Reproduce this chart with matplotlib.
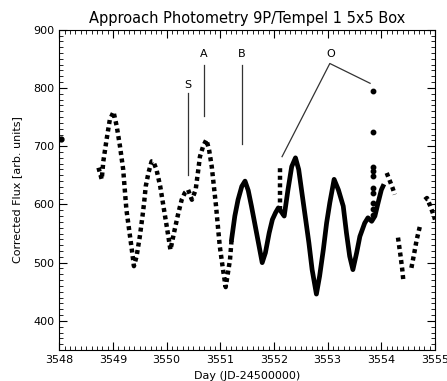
#!/usr/bin/env python3
# -*- coding: utf-8 -*-
"""
Approach photometry light curve of 9P/Tempel 1 (5x5 box)
"""

import matplotlib
matplotlib.use('Agg')
import matplotlib.pyplot as plt
from matplotlib.ticker import MultipleLocator

# Light curve pieces (day - 2450000, flux)
lone_day = [3548.03]
lone_flux = [712]

early_day = [3548.73, 3548.79, 3548.82, 3548.88, 3548.94, 3549.01, 3549.07, 3549.13,
             3549.19, 3549.22, 3549.25, 3549.30, 3549.35, 3549.39, 3549.44, 3549.50,
             3549.55, 3549.58, 3549.61, 3549.66, 3549.72, 3549.75, 3549.81, 3549.88,
             3549.94, 3550.00, 3550.04, 3550.07, 3550.15, 3550.22, 3550.28, 3550.34,
             3550.40, 3550.47, 3550.54, 3550.59, 3550.62, 3550.68, 3550.74, 3550.79,
             3550.84, 3550.88, 3550.92, 3550.96, 3550.99, 3551.05, 3551.10, 3551.18,
             3551.21]
early_flux = [663, 643, 674, 711, 745, 759, 734, 700,
              660, 625, 591, 557, 523, 494, 511, 545,
              580, 603, 631, 654, 674, 674, 660, 631,
              597, 563, 540, 522, 557, 586, 608, 620,
              625, 608, 625, 660, 682, 700, 711, 694,
              665, 631, 597, 557, 528, 488, 458, 505,
              540]

main_day = [3551.21, 3551.27, 3551.33, 3551.40, 3551.46, 3551.52, 3551.58, 3551.64,
            3551.71, 3551.78, 3551.84, 3551.91, 3551.97, 3552.03, 3552.08, 3552.13,
            3552.19, 3552.26, 3552.33, 3552.40, 3552.46, 3552.52, 3552.59, 3552.65,
            3552.71, 3552.79, 3552.85, 3552.92, 3552.98, 3553.04, 3553.12, 3553.20,
            3553.29, 3553.35, 3553.41, 3553.47, 3553.54, 3553.60, 3553.69, 3553.75,
            3553.82, 3553.88, 3553.94, 3554.00, 3554.03]
main_flux = [540, 580, 608, 631, 640, 624, 597, 568,
             534, 500, 517, 551, 574, 586, 594, 588,
             580, 625, 665, 680, 660, 620, 574, 534,
             488, 446, 477, 523, 568, 603, 643, 625,
             597, 551, 511, 488, 517, 545, 568, 577,
             571, 580, 603, 625, 631]

spike1_day = [3552.11, 3552.11]
spike1_flux = [590, 662]

spike2_day = [3553.85, 3553.85, 3553.85, 3553.85, 3553.85, 3553.85, 3553.85, 3553.85,
              3553.85, 3553.85]
spike2_flux = [794, 725, 665, 657, 648, 628, 620, 603, 592, 582]

late_pieces = [
    ([3554.10, 3554.16, 3554.21, 3554.25], [654, 640, 628, 617]),
    ([3554.31, 3554.33, 3554.36, 3554.39, 3554.41], [543, 530, 510, 488, 469]),
    ([3554.56, 3554.61, 3554.66, 3554.72], [491, 515, 540, 563]),
    ([3554.81, 3554.85, 3554.90, 3554.96, 3555.00], [608, 611, 600, 585, 574]),
]

# Feature markers: (label, day, line bottom, line top, label y)
marks = [
    ('S', 3550.39, 651, 791, 805),
    ('A', 3550.69, 751, 840, 858),
    ('B', 3551.40, 703, 840, 858),
]
o_label = ('O', 3553.06, 858)
o_lines_day = [3552.15, 3553.04, 3553.79]
o_lines_flux = [682, 842, 808]

fig = plt.figure(figsize=(4.47, 3.81), dpi=100)
ax = fig.add_axes([0.1327, 0.0814, 0.9732 - 0.1327, 0.922 - 0.0814])

dot_style = dict(color='black', lw=3.2, ls=(0, (0.9, 0.8)), dash_capstyle='butt')

ax.plot(lone_day, lone_flux, 'o', color='black', ms=3.5)
ax.plot(early_day, early_flux, **dot_style)
ax.plot(main_day, main_flux, color='black', lw=3.4, solid_joinstyle='round')
ax.plot(spike1_day, spike1_flux, **dot_style)
ax.plot(spike2_day, spike2_flux, 'o', color='black', ms=3.2)
for d, f in late_pieces:
    ax.plot(d, f, **dot_style)

for label, day, lo, hi, ly in marks:
    ax.plot([day, day], [lo, hi], color='#333333', lw=0.9)
    ax.text(day, ly, label, ha='center', va='center', fontsize=8)
ax.plot(o_lines_day, o_lines_flux, color='#333333', lw=0.9)
ax.text(o_label[1], o_label[2], o_label[0], ha='center', va='center', fontsize=8)

ax.set_xlim(3548, 3555)
ax.set_ylim(350, 900)
ax.xaxis.set_major_locator(MultipleLocator(1))
ax.xaxis.set_minor_locator(MultipleLocator(0.1))
ax.yaxis.set_major_locator(MultipleLocator(100))
ax.yaxis.set_minor_locator(MultipleLocator(10))
ax.tick_params(which='both', direction='in', top=True, right=True, labelsize=8)
ax.tick_params(which='major', length=6, width=0.8)
ax.tick_params(which='minor', length=3, width=0.6)
for s in ax.spines.values():
    s.set_linewidth(0.8)

ax.set_title('Approach Photometry 9P/Tempel 1 5x5 Box', fontsize=10.5, pad=5)
ax.set_xlabel('Day (JD-24500000)', fontsize=8)
ax.xaxis.set_label_coords(0.5, -0.065)
ax.set_ylabel('Corrected Flux [arb. units]', fontsize=8)
ax.yaxis.set_label_coords(-0.1, 0.5)

plt.savefig('out.png', dpi=100)
